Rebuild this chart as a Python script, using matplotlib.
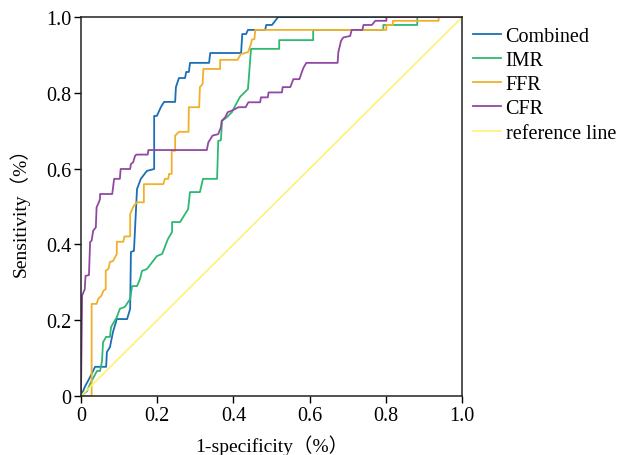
import numpy as np
import matplotlib
matplotlib.use('Agg')
import matplotlib.pyplot as plt

plt.rcParams['font.family'] = ['Liberation Serif', 'Noto Sans CJK SC', 'DejaVu Sans']

# ROC step points (1-specificity, sensitivity)
combined_x = [0, 0.011, 0.024, 0.037, 0.066, 0.068, 0.076, 0.084, 0.094, 0.121, 0.129, 0.131,
              0.139, 0.147, 0.157, 0.173, 0.192, 0.192, 0.199, 0.210, 0.218, 0.247, 0.249,
              0.257, 0.273, 0.276, 0.283, 0.286, 0.336, 0.339, 0.420, 0.423, 0.433, 0.438,
              0.483, 0.486, 0.501, 0.517, 1.0]
combined_y = [0, 0.026, 0.050, 0.077, 0.077, 0.116, 0.129, 0.169, 0.203, 0.203, 0.230, 0.380,
              0.383, 0.546, 0.573, 0.594, 0.599, 0.739, 0.739, 0.763, 0.776, 0.776, 0.815,
              0.839, 0.839, 0.855, 0.855, 0.879, 0.879, 0.905, 0.905, 0.955, 0.955, 0.966,
              0.966, 0.979, 0.979, 1.0, 1.0]

imr_x = [0, 0.016, 0.024, 0.042, 0.050, 0.055, 0.058, 0.066, 0.076, 0.079, 0.094, 0.102,
         0.115, 0.129, 0.134, 0.147, 0.155, 0.160, 0.173, 0.189, 0.199, 0.213, 0.228, 0.239,
         0.239, 0.260, 0.281, 0.286, 0.312, 0.320, 0.357, 0.360, 0.367, 0.370, 0.383, 0.396,
         0.404, 0.417, 0.438, 0.446, 0.520, 0.520, 0.609, 0.609, 0.793, 0.793, 0.882, 0.882, 1.0]
imr_y = [0, 0.013, 0.032, 0.066, 0.066, 0.090, 0.142, 0.156, 0.156, 0.182, 0.208, 0.230,
         0.235, 0.256, 0.290, 0.290, 0.309, 0.330, 0.335, 0.356, 0.369, 0.375, 0.414, 0.433,
         0.459, 0.459, 0.493, 0.538, 0.538, 0.573, 0.573, 0.673, 0.675, 0.726, 0.736, 0.749,
         0.765, 0.789, 0.810, 0.916, 0.916, 0.939, 0.939, 0.966, 0.966, 0.979, 0.979, 1.0, 1.0]

ffr_x = [0, 0.028, 0.028, 0.041, 0.045, 0.054, 0.059, 0.065, 0.065, 0.072, 0.076, 0.084,
         0.094, 0.094, 0.111, 0.114, 0.129, 0.129, 0.137, 0.146, 0.165, 0.165, 0.216, 0.220,
         0.229, 0.231, 0.238, 0.238, 0.247, 0.247, 0.257, 0.282, 0.283, 0.310, 0.312, 0.319,
         0.321, 0.365, 0.365, 0.411, 0.419, 0.438, 0.446, 0.448, 0.455, 0.457, 0.801, 0.801,
         0.818, 0.818, 0.938, 0.938, 1.0]
ffr_y = [0, 0, 0.243, 0.243, 0.256, 0.265, 0.278, 0.282, 0.331, 0.335, 0.354, 0.356,
         0.375, 0.407, 0.407, 0.421, 0.421, 0.480, 0.499, 0.511, 0.511, 0.559, 0.559, 0.573,
         0.573, 0.586, 0.586, 0.647, 0.647, 0.687, 0.697, 0.697, 0.762, 0.762, 0.815, 0.823,
         0.863, 0.863, 0.887, 0.887, 0.902, 0.907, 0.929, 0.940, 0.942, 0.966, 0.966, 0.979,
         0.979, 0.990, 0.990, 1.0, 1.0]

cfr_x = [0, 0.003, 0.010, 0.012, 0.021, 0.024, 0.028, 0.032, 0.039, 0.041, 0.047, 0.050,
         0.050, 0.082, 0.087, 0.102, 0.104, 0.129, 0.131, 0.137, 0.142, 0.146, 0.175, 0.177,
         0.330, 0.334, 0.345, 0.360, 0.367, 0.369, 0.378, 0.385, 0.396, 0.413, 0.432, 0.439,
         0.470, 0.472, 0.490, 0.492, 0.527, 0.529, 0.549, 0.557, 0.573, 0.579, 0.584, 0.591,
         0.673, 0.675, 0.682, 0.688, 0.706, 0.710, 0.738, 0.741, 0.763, 0.772, 0.801, 0.801, 1.0]
cfr_y = [0, 0.265, 0.282, 0.317, 0.319, 0.406, 0.410, 0.436, 0.445, 0.498, 0.511, 0.520,
         0.533, 0.533, 0.573, 0.573, 0.599, 0.599, 0.612, 0.617, 0.634, 0.637, 0.637, 0.649,
         0.649, 0.669, 0.687, 0.691, 0.709, 0.726, 0.735, 0.749, 0.753, 0.762, 0.762, 0.775,
         0.775, 0.788, 0.788, 0.801, 0.801, 0.815, 0.815, 0.836, 0.836, 0.854, 0.867, 0.879,
         0.879, 0.907, 0.937, 0.946, 0.950, 0.966, 0.966, 0.979, 0.979, 0.990, 0.990, 1.0, 1.0]

ref_x = [0, 1]
ref_y = [0, 1]

fig = plt.figure(figsize=(6.18, 4.56), dpi=100)
ax = fig.add_axes([0.131, 0.1294, 0.617, 0.8311])

ax.plot(combined_x, combined_y, color='#1a6fb5', lw=1.3, label='Combined')
ax.plot(imr_x, imr_y, color='#2eb872', lw=1.3, label='IMR')
ax.plot(ffr_x, ffr_y, color='#f0b12a', lw=1.3, label='FFR')
ax.plot(cfr_x, cfr_y, color='#9148a3', lw=1.3, label='CFR')
ax.plot(ref_x, ref_y, color='#fff176', lw=1.2, label='reference line')

ax.set_xlim(0, 1)
ax.set_ylim(0, 1)
ticks = [0, 0.2, 0.4, 0.6, 0.8, 1.0]
labels = ['0', '0.2', '0.4', '0.6', '0.8', '1.0']
ax.set_xticks(ticks)
ax.set_xticklabels(labels)
ax.set_yticks(ticks)
ax.set_yticklabels(labels)
ax.tick_params(direction='out', length=5, width=1, labelsize=14.5, pad=2)
for s in ax.spines.values():
    s.set_linewidth(1.1)
    s.set_color('#222222')

ax.set_xlabel('1-specificity（%）', fontsize=14, labelpad=7)
ax.set_ylabel('Sensitivity（%）', fontsize=14, labelpad=12)

ax.legend(loc='upper left', bbox_to_anchor=(1.008, 0.995), frameon=False, fontsize=14.5,
          handlelength=1.35, handletextpad=0.25, labelspacing=0.25, borderaxespad=0)

fig.savefig('out.png', dpi=100)
